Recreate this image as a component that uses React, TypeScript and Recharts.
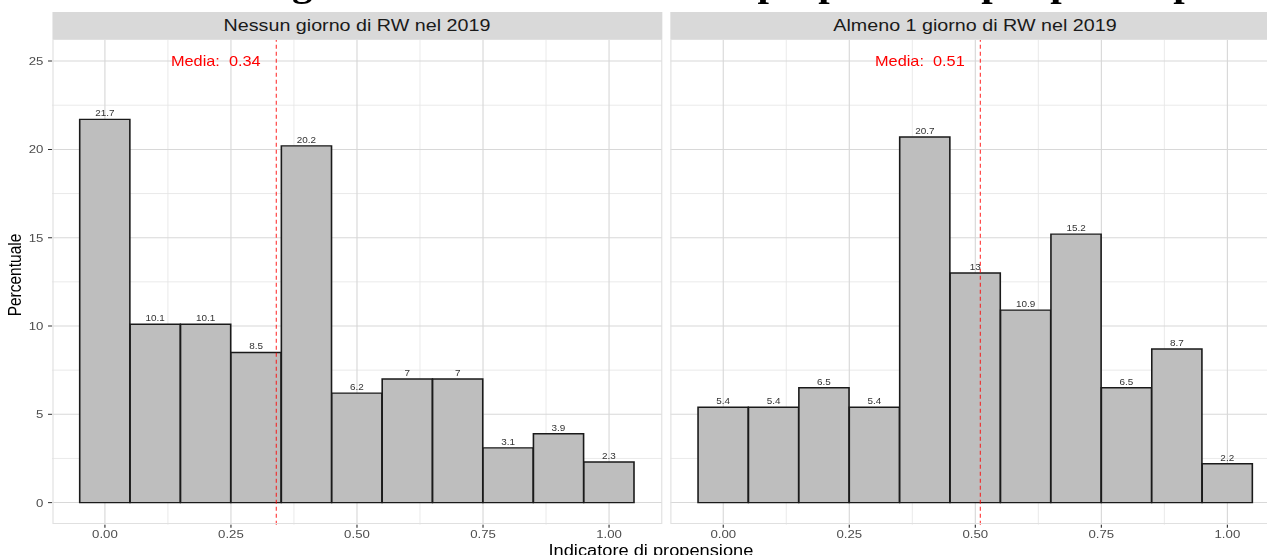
import React from "react";
import {
  ComposedChart,
  Bar,
  XAxis,
  YAxis,
  CartesianGrid,
  ReferenceLine,
  ReferenceDot,
  LabelList,
} from "recharts";

// bin centres of the histogram (width 0.1)
const bins = [0, 0.1, 0.2, 0.3, 0.4, 0.5, 0.6, 0.7, 0.8, 0.9, 1.0];
const nessunoPct = [21.7, 10.1, 10.1, 8.5, 20.2, 6.2, 7, 7, 3.1, 3.9, 2.3];
const almenoPct = [5.4, 5.4, 6.5, 5.4, 20.7, 13, 10.9, 15.2, 6.5, 8.7, 2.2];
const panelTitles = ["Nessun giorno di RW nel 2019", "Almeno 1 giorno di RW nel 2019"];
const medie = [0.34, 0.51];
const xTicks = [0, 0.25, 0.5, 0.75, 1];
const yTicks = [0, 5, 10, 15, 20, 25];
const xMinor = [0.125, 0.375, 0.625, 0.875];
const yMinor = [2.5, 7.5, 12.5, 17.5, 22.5];

const SX = 1.14; // the picture is a bit stretched horizontally
const DW = 1267 / SX;
const FONT = "'Liberation Sans', Arial, sans-serif";

const PLOT_TOP = 38.7;
const PLOT_H = 485.7;
const PANEL_W = 535.1;
const AXIS_W = 45.6;
const RIGHT_X = 587.7;

const toRows = (vals: number[]) => bins.map((b, i) => ({ x: b, pct: vals[i] }));

const Panel = ({ vals, media, showY }: { vals: number[]; media: number; showY: boolean }) => {
  const data = toRows(vals);
  return (
    <ComposedChart
      width={PANEL_W + (showY ? AXIS_W : 0)}
      height={PLOT_H + 30}
      data={data}
      margin={{ top: 0, right: 0, bottom: 0, left: 0 }}
      barCategoryGap={0}
      barGap={0}
    >
      <CartesianGrid
        verticalValues={xMinor}
        horizontalValues={yMinor}
        stroke="#e6e6e6"
        strokeWidth={0.8}
      />
      <CartesianGrid
        verticalValues={xTicks}
        horizontalValues={yTicks}
        stroke="#d8d8d8"
        strokeWidth={1}
      />
      <XAxis
        dataKey="x"
        type="number"
        domain={[-0.105, 1.105]}
        ticks={xTicks}
        allowDataOverflow
        tickFormatter={(v: number) => v.toFixed(2)}
        axisLine={false}
        tickSize={3}
        tickMargin={2.5}
        tickLine={{ stroke: "#333333" }}
        tick={{ fill: "#4d4d4d", fontSize: 11.6, fontFamily: FONT }}
        height={30}
      />
      <YAxis
        type="number"
        domain={[-1.25, 26.25]}
        ticks={yTicks}
        allowDataOverflow
        hide={!showY}
        width={AXIS_W}
        axisLine={false}
        tickSize={3.5}
        tickMargin={4}
        tickLine={{ stroke: "#333333" }}
        tick={{ fill: "#4d4d4d", fontSize: 11.6, fontFamily: FONT }}
      />
      <Bar
        dataKey="pct"
        fill="#bebebe"
        stroke="#1a1a1a"
        strokeWidth={1.4}
        isAnimationActive={false}
      >
        <LabelList
          dataKey="pct"
          position="top"
          offset={3}
          fill="#333333"
          fontSize={8.7}
          fontFamily={FONT}
        />
      </Bar>
      <ReferenceLine
        x={media}
        stroke="#ff0000"
        strokeOpacity={0.7}
        strokeDasharray="4 3"
        strokeWidth={1.1}
      />
      <ReferenceDot
        x={media - 0.12}
        y={25}
        r={0}
        fill="none"
        stroke="none"
        label={{
          value: `Media:\u00a0 ${media.toFixed(2)}`,
          position: "center",
          fill: "#ff0000",
          fontSize: 14.3,
          fontFamily: FONT,
        }}
      />
    </ComposedChart>
  );
};

const stripStyle = (left: number): React.CSSProperties => ({
  position: "absolute",
  left,
  top: 12,
  width: PANEL_W,
  height: PLOT_TOP - 12,
  background: "#d9d9d9",
  color: "#1a1a1a",
  fontSize: 17.3,
  display: "flex",
  alignItems: "center",
  justifyContent: "center",
});

const borderStyle = (left: number): React.CSSProperties => ({
  position: "absolute",
  left,
  top: PLOT_TOP,
  width: PANEL_W,
  height: PLOT_H,
  border: "1px solid #e0e0e0",
  boxSizing: "border-box",
  pointerEvents: "none",
});

export default function App() {
  return (
    <div
      style={{
        position: "absolute",
        left: 0,
        top: 0,
        width: 1267,
        height: 555,
        overflow: "hidden",
        background: "#ffffff",
        fontFamily: FONT,
      }}
    >
      <div
        style={{
          position: "absolute",
          left: 0,
          top: 0,
          width: DW,
          height: 555,
          transform: `scaleX(${SX})`,
          transformOrigin: "0 0",
        }}
      >
        <div
          style={{
            position: "absolute",
            left: 0,
            width: 2 * 726,
            top: -34,
            textAlign: "center",
            fontFamily: "'Liberation Serif', serif",
            fontWeight: "bold",
            fontSize: 36,
            lineHeight: "36px",
            whiteSpace: "nowrap",
          }}
        >
          Istogramma dell'indicatore di propensione per partecipazione al RW
        </div>
        <div style={stripStyle(AXIS_W)}>{panelTitles[0]}</div>
        <div style={stripStyle(RIGHT_X)}>{panelTitles[1]}</div>
        <div style={{ position: "absolute", left: 0, top: PLOT_TOP }}>
          <Panel vals={nessunoPct} media={medie[0]} showY />
        </div>
        <div style={{ position: "absolute", left: RIGHT_X, top: PLOT_TOP }}>
          <Panel vals={almenoPct} media={medie[1]} showY={false} />
        </div>
        <div style={borderStyle(AXIS_W)} />
        <div style={borderStyle(RIGHT_X)} />
        <div
          style={{
            position: "absolute",
            left: 12.5,
            top: 275,
            transform: "translate(-50%, -50%) rotate(-90deg)",
            fontSize: 15.5,
            color: "#000000",
            whiteSpace: "nowrap",
          }}
        >
          Percentuale
        </div>
        <div
          style={{
            position: "absolute",
            left: 0,
            width: 2 * 571,
            top: 543,
            textAlign: "center",
            fontSize: 16,
            lineHeight: "16px",
            color: "#000000",
            whiteSpace: "nowrap",
          }}
        >
          Indicatore di propensione
        </div>
      </div>
    </div>
  );
}
